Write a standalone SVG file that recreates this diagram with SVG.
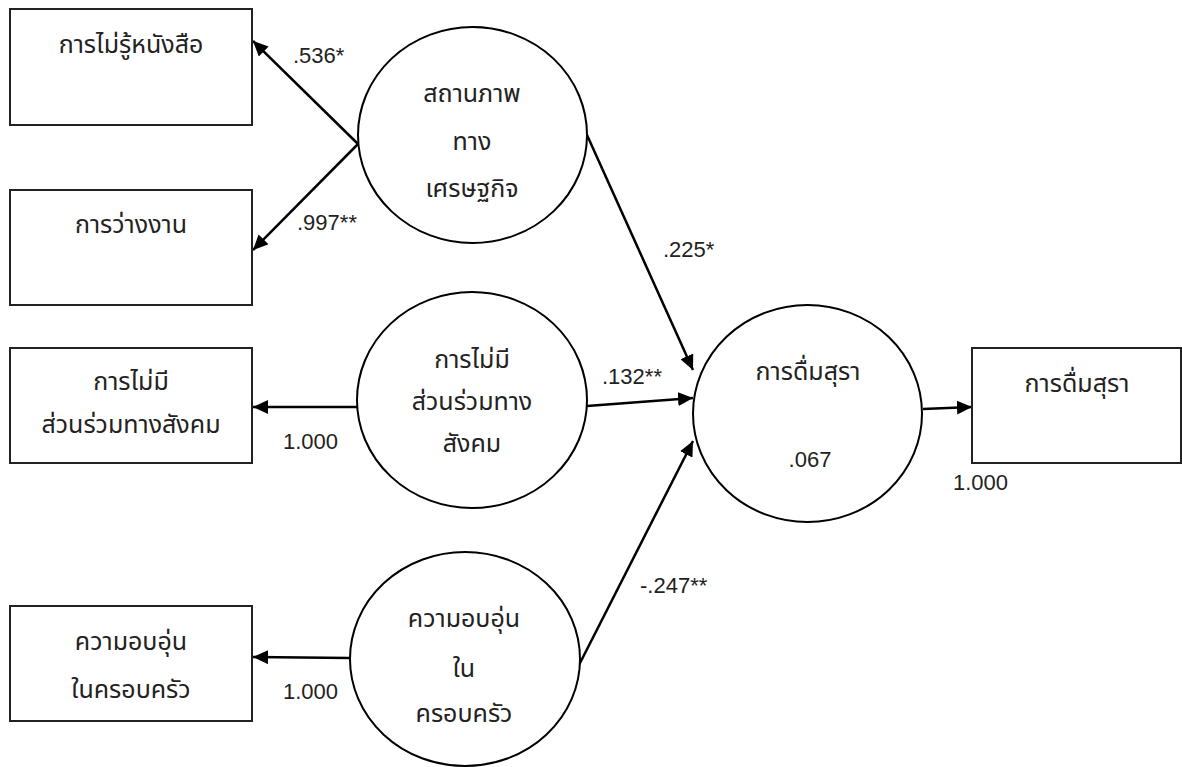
<svg xmlns="http://www.w3.org/2000/svg" width="1182" height="767" viewBox="0 0 1182 767">
<style>
.box{fill:#fff;stroke:#222;stroke-width:2}
.ell{fill:#fff;stroke:#000;stroke-width:2}
.t{font-family:"Noto Sans Thai","Noto Sans","DejaVu Sans",sans-serif;font-size:25px;fill:#222;text-anchor:middle}
.n{font-family:"Liberation Sans","Noto Sans",sans-serif;font-size:22px;fill:#222}
.c{stroke:#000;stroke-width:2.5;fill:none;marker-end:url(#ah)}
</style>
<defs>
<marker id="ah" markerUnits="userSpaceOnUse" markerWidth="16" markerHeight="14" refX="15" refY="7" orient="auto">
<path d="M0,0 L15,7 L0,14 z" fill="#000"/>
</marker>
</defs>
<rect width="1182" height="767" fill="#fff"/>
<g id="connectors">
<line class="c" x1="358" y1="144" x2="253" y2="41"/>
<line class="c" x1="358" y1="144" x2="253" y2="250"/>
<line class="c" x1="357" y1="407" x2="253" y2="407"/>
<line class="c" x1="350" y1="658" x2="253" y2="657"/>
<line class="c" x1="587" y1="135" x2="693" y2="370"/>
<line class="c" x1="587" y1="406" x2="693" y2="398"/>
<line class="c" x1="579" y1="665" x2="693" y2="441"/>
<line class="c" x1="923" y1="409" x2="972" y2="407"/>
</g>
<g id="labels">
<text class="n" x="293" y="63">.536*</text>
<text class="n" x="297" y="230">.997**</text>
<text class="n" x="283" y="449">1.000</text>
<text class="n" x="283" y="699">1.000</text>
<text class="n" x="663" y="257">.225*</text>
<text class="n" x="602" y="384">.132**</text>
<text class="n" x="640" y="593">-.247**</text>
<text class="n" x="953" y="490">1.000</text>
</g>
<g id="box1"><rect class="box" x="10" y="9" width="242" height="116"/><text class="t" x="131" y="53">การไม่รู้หนังสือ</text></g>
<g id="box2"><rect class="box" x="10" y="190" width="242" height="115"/><text class="t" x="131" y="233">การว่างงาน</text></g>
<g id="box3"><rect class="box" x="10" y="348" width="242" height="115"/><text class="t" x="131" y="390">การไม่มี</text><text class="t" x="131" y="433">ส่วนร่วมทางสังคม</text></g>
<g id="box4"><rect class="box" x="10" y="606" width="242" height="115"/><text class="t" x="131" y="650">ความอบอุ่น</text><text class="t" x="131" y="698">ในครอบครัว</text></g>
<g id="box5"><rect class="box" x="972" y="348" width="209" height="115"/><text class="t" x="1077" y="392">การดื่มสุรา</text></g>
<g id="ell1"><ellipse class="ell" cx="472.5" cy="135" rx="114.5" ry="108"/><text class="t" x="472" y="102">สถานภาพ</text><text class="t" x="472" y="150">ทาง</text><text class="t" x="472" y="197">เศรษฐกิจ</text></g>
<g id="ell2"><ellipse class="ell" cx="472" cy="400" rx="115" ry="108"/><text class="t" x="472" y="368">การไม่มี</text><text class="t" x="472" y="410">ส่วนร่วมทาง</text><text class="t" x="472" y="452">สังคม</text></g>
<g id="ell3"><ellipse class="ell" cx="465" cy="659" rx="115" ry="107"/><text class="t" x="464" y="627">ความอบอุ่น</text><text class="t" x="464" y="677">ใน</text><text class="t" x="464" y="722">ครอบครัว</text></g>
<g id="ell4"><ellipse class="ell" cx="807.5" cy="413.5" rx="114.5" ry="108.5"/><text class="t" x="808" y="380">การดื่มสุรา</text><text class="n" x="810" y="467" text-anchor="middle">.067</text></g>
</svg>
